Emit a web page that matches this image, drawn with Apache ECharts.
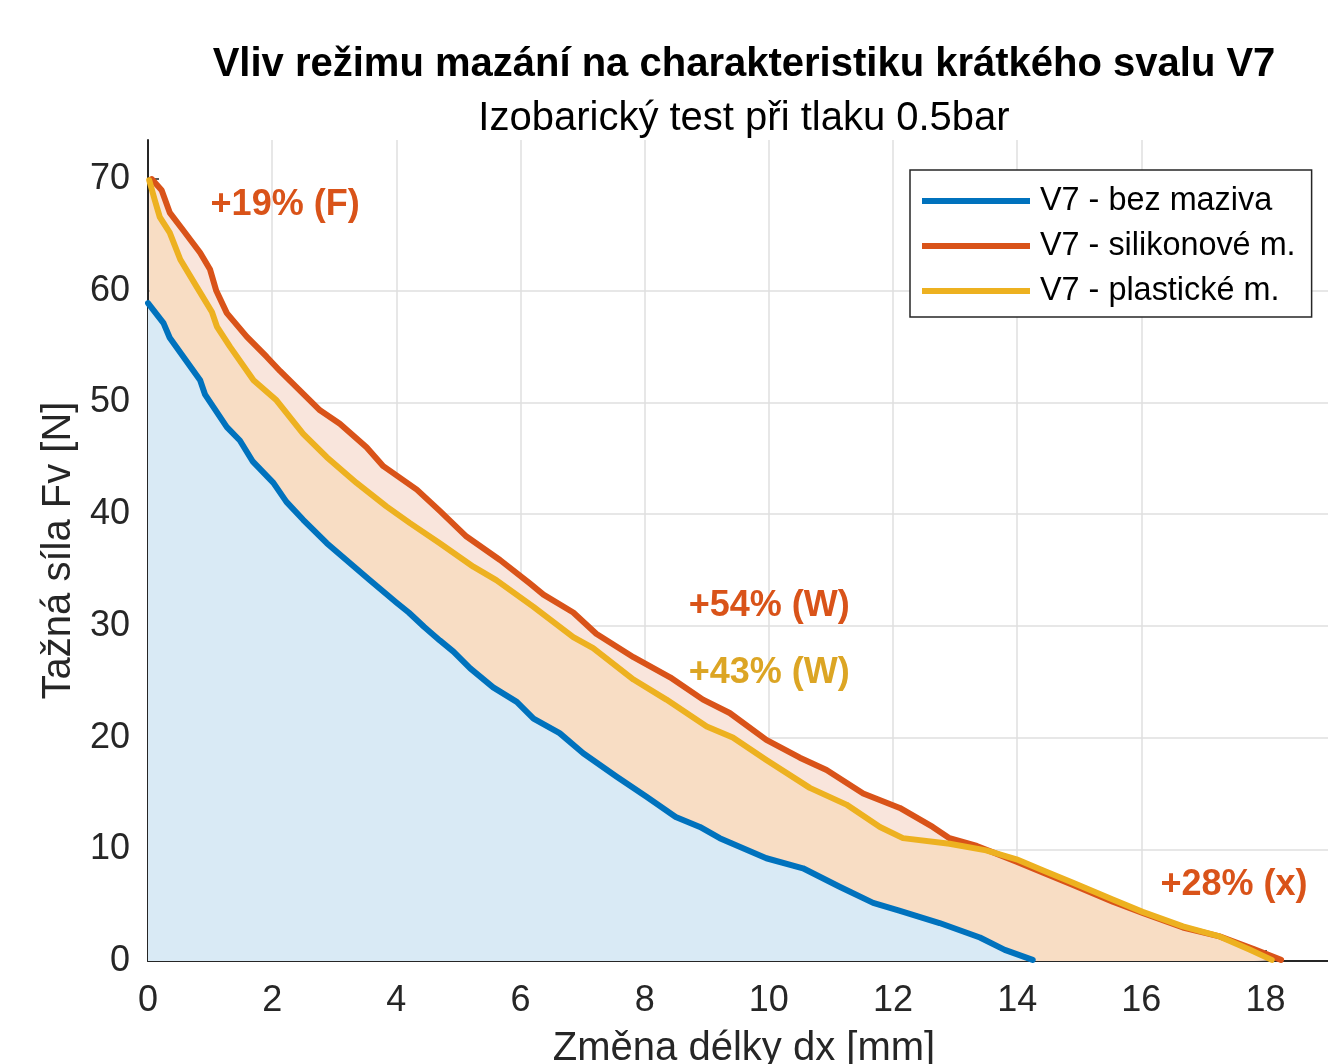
<!DOCTYPE html>
<html>
<head>
<meta charset="utf-8">
<script src="https://cdn.jsdelivr.net/npm/echarts@6/dist/echarts.min.js"></script>
<style>
  html, body { margin: 0; padding: 0; background: #fff; overflow: hidden; }
  #chart { width: 1488px; height: 1064px; }
</style>
</head>
<body>
<div id="chart"></div>
<script>
/* hodnoty */
var X_BEZ = [0, 0.25, 0.35, 0.84, 0.92, 1.27, 1.48, 1.69, 2.02, 2.23, 2.5, 2.88, 3.57, 4.0, 4.2, 4.45, 4.7, 4.92, 5.19, 5.56, 5.94, 6.21, 6.63, 7.01, 7.55, 8.03, 8.5, 8.89, 9.21, 9.96, 10.55, 11.14, 11.68, 12.1, 12.75, 13.4, 13.8, 14.25];
var Y_BEZ = [58.9, 57.1, 55.8, 52.0, 50.7, 47.8, 46.6, 44.7, 42.8, 41.1, 39.5, 37.4, 34.1, 32.1, 31.2, 29.9, 28.7, 27.7, 26.2, 24.5, 23.2, 21.7, 20.4, 18.6, 16.5, 14.7, 12.9, 12.0, 11.0, 9.2, 8.3, 6.65, 5.2, 4.5, 3.4, 2.1, 1.0, 0.1];

var X_SIL = [0.06, 0.22, 0.35, 0.57, 0.84, 1.0, 1.1, 1.27, 1.59, 1.91, 2.13, 2.77, 3.09, 3.52, 3.79, 4.33, 4.7, 5.13, 5.67, 6.15, 6.37, 6.85, 7.22, 7.82, 8.41, 8.94, 9.37, 9.96, 10.5, 10.93, 11.52, 12.11, 12.64, 12.91, 13.35, 13.99, 14.42, 14.9, 15.54, 16.02, 16.67, 17.26, 17.8, 18.25];
var Y_SIL = [70.0, 69.0, 67.0, 65.4, 63.4, 61.9, 60.0, 58.0, 55.9, 54.1, 52.8, 49.3, 48.1, 46.0, 44.3, 42.2, 40.3, 38.0, 35.9, 33.8, 32.8, 31.2, 29.3, 27.2, 25.4, 23.4, 22.2, 19.8, 18.2, 17.1, 15.0, 13.7, 12.0, 11.0, 10.3, 8.9, 7.9, 6.8, 5.3, 4.3, 3.0, 2.2, 1.1, 0.1];

var X_PLA = [0.02, 0.11, 0.19, 0.35, 0.52, 0.78, 1.03, 1.11, 1.32, 1.7, 2.07, 2.5, 2.88, 3.36, 3.84, 4.22, 4.7, 5.24, 5.61, 6.21, 6.85, 7.17, 7.82, 8.35, 9.0, 9.42, 9.96, 10.66, 11.25, 11.79, 12.16, 12.91, 13.5, 13.99, 14.42, 14.9, 15.54, 16.02, 16.67, 17.26, 17.75, 18.1];
var Y_PLA = [69.9, 68.1, 66.6, 65.2, 62.8, 60.4, 58.1, 56.8, 55.0, 52.0, 50.2, 47.2, 45.1, 42.8, 40.7, 39.2, 37.4, 35.3, 34.1, 31.7, 29.0, 28.0, 25.2, 23.4, 21.0, 20.0, 18.0, 15.5, 14.0, 12.0, 11.0, 10.5, 9.9, 9.1, 8.1, 7.0, 5.5, 4.4, 3.1, 2.2, 1.0, 0.1];

var NAMES = ['V7 - bez maziva', 'V7 - silikonové m.', 'V7 - plastické m.'];

var X_TICKS = [0, 2, 4, 6, 8, 10, 12, 14, 16, 18];
var Y_TICKS = [0, 10, 20, 30, 40, 50, 60, 70];
var X_MAX = 19.2;
var Y_MAX = 73.5;

/* popisky v grafu */
var ANNOT_TEXT = ['+19% (F)', '+54% (W)', '+43% (W)', '+28% (x)'];
var ANNOT_X = [1.0, 8.7, 8.7, 16.3];
var ANNOT_Y = [67.7, 31.8, 25.8, 6.8];
var ANNOT_OF = [1, 1, 2, 1]; /* ke které křivce patří (index v NAMES) */

/* barvy (MATLAB) */
var LINE_COLOR = ['#0072BD', '#D95319', '#EDB120'];
var FILL_COLOR = ['#d9eaf5', '#f9e5dc', '#f8ddc4'];
var TEXT_COLOR = ['#0072BD', '#D95319', '#DCA524'];

var FONT = 'Liberation Sans, Arial, sans-serif';
var AX = '#262626';

function zip(xs, ys) {
    var rt = [];
    for (var i = 0; i < xs.length; i++) rt.push([xs[i], ys[i]]);
    return rt;
}

function curve(idx, xs, ys) {
    return {
        name: NAMES[idx],
        type: 'line',
        data: zip(xs, ys),
        color: LINE_COLOR[idx],
        showSymbol: false,
        symbol: 'none',
        lineStyle: { width: 6, color: LINE_COLOR[idx], join: 'round', cap: 'round' },
        areaStyle: { color: FILL_COLOR[idx], opacity: 1 }
    };
}

var annotData = [];
for (var i = 0; i < ANNOT_TEXT.length; i++) {
    annotData.push({
        value: [ANNOT_X[i], ANNOT_Y[i]],
        label: { formatter: ANNOT_TEXT[i], color: TEXT_COLOR[ANNOT_OF[i]] }
    });
}

var option = {
    animation: false,
    backgroundColor: '#fff',
    textStyle: { fontFamily: FONT },
    title: [
        {
            text: 'Vliv režimu mazání na charakteristiku krátkého svalu V7',
            left: 'center', top: 40,
            textStyle: { fontFamily: FONT, fontSize: 40, fontWeight: 'bold', color: '#000' }
        },
        {
            text: 'Izobarický test při tlaku 0.5bar',
            left: 'center', top: 94,
            textStyle: { fontFamily: FONT, fontSize: 40, fontWeight: 'normal', color: '#000' }
        }
    ],
    legend: {
        data: NAMES,
        orient: 'vertical',
        left: 910, top: 170,
        icon: 'rect',
        itemWidth: 108, itemHeight: 6,
        itemGap: 9,
        padding: [13, 16, 8, 12],
        backgroundColor: '#fff',
        borderColor: AX, borderWidth: 1.5, borderRadius: 0,
        textStyle: { fontFamily: FONT, fontSize: 32.4, color: '#000', lineHeight: 36, padding: [0, 0, 0, 5] }
    },
    grid: { left: 148, right: 148, top: 140, bottom: 103, containLabel: false, outerBoundsMode: 'none' },
    xAxis: {
        type: 'value',
        min: 0, max: X_MAX, interval: 2,
        name: 'Změna délky dx [mm]',
        nameLocation: 'middle', nameGap: 68,
        nameTextStyle: { fontFamily: FONT, fontSize: 40, color: AX },
        axisLine: { show: true, lineStyle: { color: AX, width: 2 } },
        axisTick: { show: true, inside: true, length: 11, lineStyle: { color: AX, width: 1.5 }, customValues: X_TICKS },
        axisLabel: { fontFamily: FONT, fontSize: 36, color: AX, margin: 22, customValues: X_TICKS },
        splitLine: { show: true, showMaxLine: false, showMinLine: false, lineStyle: { color: '#dfdfdf', width: 1.5 } }
    },
    yAxis: {
        type: 'value',
        min: 0, max: Y_MAX, interval: 10,
        name: 'Tažná síla Fv [N]',
        nameLocation: 'middle', nameGap: 68,
        nameTextStyle: { fontFamily: FONT, fontSize: 40, color: AX },
        axisLine: { show: true, lineStyle: { color: AX, width: 2 } },
        axisTick: { show: true, inside: true, length: 11, lineStyle: { color: AX, width: 1.5 }, customValues: Y_TICKS },
        axisLabel: { fontFamily: FONT, fontSize: 36, color: AX, margin: 18, customValues: Y_TICKS },
        splitLine: { show: true, showMaxLine: false, showMinLine: false, lineStyle: { color: '#dfdfdf', width: 1.5 } }
    },
    series: [
        /* pořadí kvůli překrývání ploch: silikonové, plastické, bez maziva */
        curve(1, X_SIL, Y_SIL),
        curve(2, X_PLA, Y_PLA),
        curve(0, X_BEZ, Y_BEZ),
        {
            name: 'popisky',
            type: 'scatter',
            data: annotData,
            symbolSize: 1,
            itemStyle: { color: 'rgba(0,0,0,0)', opacity: 1 },
            label: {
                show: true, position: 'right', distance: 0, opacity: 1,
                fontFamily: FONT, fontSize: 36, fontWeight: 'bold'
            },
            silent: true
        }
    ]
};

var chart = echarts.init(document.getElementById('chart'));
chart.setOption(option);
</script>
</body>
</html>
